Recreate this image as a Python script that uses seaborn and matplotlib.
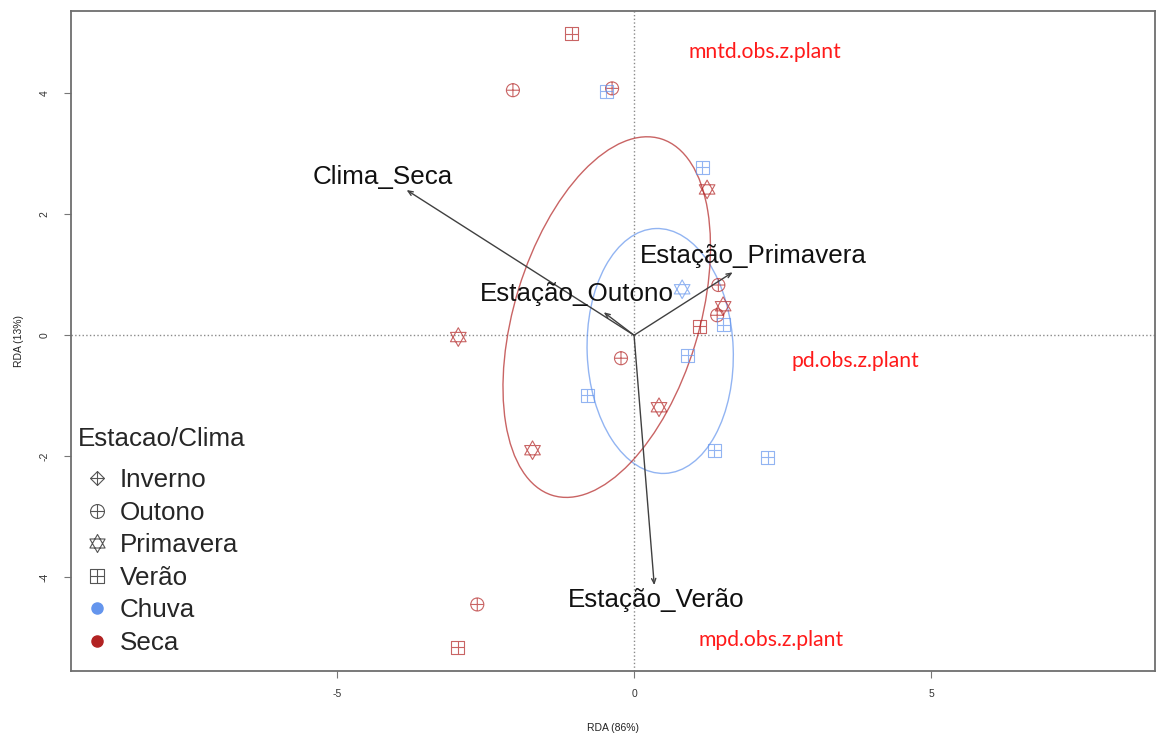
import numpy as np
import pandas as pd
import matplotlib
matplotlib.use("Agg")
import matplotlib.pyplot as plt
from matplotlib.path import Path
from matplotlib.patches import Ellipse
from matplotlib.lines import Line2D
import seaborn as sns

# Scores dos locais (RDA1, RDA2)
rda1 = [-1.05, -2.04, -0.47, -0.37, 1.15, 1.23, 0.81, 1.42, 1.50, 1.40, 1.50,
        1.11, -2.96, -0.22, 0.90, -0.79, 0.42, -1.71, 1.35, 2.25, -2.64, -2.97]
rda2 = [4.98, 4.05, 4.03, 4.08, 2.78, 2.41, 0.76, 0.83, 0.48, 0.33, 0.17,
        0.15, -0.03, -0.38, -0.33, -0.99, -1.19, -1.90, -1.90, -2.02, -4.45, -5.16]
estacao = ["Verão", "Outono", "Verão", "Outono", "Verão", "Primavera", "Primavera",
           "Outono", "Primavera", "Outono", "Verão", "Verão", "Primavera", "Outono",
           "Verão", "Verão", "Primavera", "Primavera", "Verão", "Verão", "Outono", "Verão"]
clima = ["Seca", "Seca", "Chuva", "Seca", "Chuva", "Seca", "Chuva", "Seca", "Seca",
         "Seca", "Chuva", "Seca", "Seca", "Seca", "Chuva", "Chuva", "Seca", "Seca",
         "Chuva", "Chuva", "Seca", "Seca"]

estacoes = ["Inverno", "Outono", "Primavera", "Verão"]
climas = ["Chuva", "Seca"]
cores = {"Chuva": "#6495ED", "Seca": "#B22222"}

# Variaveis explicativas (setas)
env_nomes = ["Clima_Seca", "Estação_Primavera", "Estação_Outono", "Estação_Verão"]
env_x = [-3.83, 1.66, -0.51, 0.34]
env_y = [2.40, 1.04, 0.38, -4.13]
env_lab_x = [-4.24, 2.01, -0.96, 0.37]
env_lab_y = [2.61, 1.31, 0.68, -4.38]

# Variaveis resposta
sp_nomes = ["mntd.obs.z.plant", "pd.obs.z.plant", "mpd.obs.z.plant"]
sp_x = [2.21, 3.73, 2.31]
sp_y = [4.68, -0.43, -5.04]

# Elipses por clima
ell_cx = [0.44, -0.46]
ell_cy = [-0.26, 0.30]
ell_w = [4.05, 6.17]
ell_h = [2.46, 3.11]
ell_ang = [92.2, 72.6]

M, L, C = Path.MOVETO, Path.LINETO, Path.CLOSEPOLY
cruz = Path([[-1, 0], [1, 0], [0, -1], [0, 1]], [M, L, M, L])
marcadores = {
    "Inverno": Path.make_compound_path(
        Path([[0, 1], [1, 0], [0, -1], [-1, 0], [0, 1]], [M, L, L, L, C]), cruz),
    "Outono": Path.make_compound_path(Path.unit_circle(), cruz),
    "Primavera": Path([[0, 1], [-0.84, -0.5], [0.84, -0.5], [0, 1],
                       [0, -1], [-0.84, 0.5], [0.84, 0.5], [0, -1]],
                      [M, L, L, C, M, L, L, C]),
    "Verão": Path.make_compound_path(
        Path([[-1, -1], [1, -1], [1, 1], [-1, 1], [-1, -1]], [M, L, L, L, C]), cruz),
}
tamanhos = {"Inverno": 100, "Outono": 88, "Primavera": 180, "Verão": 88}

df = pd.DataFrame({"RDA1": rda1, "RDA2": rda2, "Estacao": estacao, "Clima": clima})

sns.set_style("white")
plt.rcParams["font.family"] = ["Liberation Sans", "DejaVu Sans"]
plt.rcParams["axes.unicode_minus"] = False

fig = plt.figure(figsize=(11.56, 7.40), dpi=100)
ax = fig.add_axes([0.061, 0.0932, 0.938, 0.892])

ax.axhline(0, ls=":", color="#8a8a8a", lw=1, zorder=1)
ax.axvline(0, ls=":", color="#8a8a8a", lw=1, zorder=1)

for cl, cx, cy, w, h, a in zip(climas, ell_cx, ell_cy, ell_w, ell_h, ell_ang):
    ax.add_patch(Ellipse((cx, cy), w, h, angle=a, fill=False,
                         edgecolor=cores[cl], alpha=0.7, lw=1.0, zorder=2))

for est in ["Outono", "Primavera", "Verão"]:
    sub = df[df["Estacao"] == est]
    sns.scatterplot(data=sub, x="RDA1", y="RDA2", hue="Clima", hue_order=climas,
                    palette=cores, marker=marcadores[est], s=tamanhos[est],
                    linewidth=0.8, legend=False, ax=ax, zorder=3)

# marcadores vazados: cor vai para a borda
for coll in ax.collections:
    fc = np.array(coll.get_facecolors())
    if len(fc):
        fc[:, 3] = 0.7
        coll.set_edgecolors(fc)
        coll.set_facecolors("none")

for nome, x, y, lx, ly in zip(env_nomes, env_x, env_y, env_lab_x, env_lab_y):
    ax.annotate("", xy=(x, y), xytext=(0, 0),
                arrowprops=dict(arrowstyle="->,head_length=0.35,head_width=0.15",
                                color="#404040", lw=1, shrinkA=0, shrinkB=0),
                zorder=4)
    ax.text(lx, ly, nome, fontsize=18.7, color="#111111", ha="center", va="center",
            zorder=5)

for nome, x, y in zip(sp_nomes, sp_x, sp_y):
    ax.text(x, y, nome, fontsize=15.2, color="#ff1a1a", ha="center", va="center",
            family=["Lato", "DejaVu Sans"])

ax.set_xlim(-9.49, 8.77)
ax.set_ylim(-5.55, 5.36)
ax.set_xticks([-5, 0, 5])
ax.set_yticks([-4, -2, 0, 2, 4])
ax.set_xlabel("RDA (86%)", fontsize=7.5, color="#222222", labelpad=17)
ax.set_ylabel("RDA (13%)", fontsize=7.5, color="#222222", labelpad=11)
ax.tick_params(axis="both", length=5, width=0.8, color="#777777", labelsize=7.5,
               labelcolor="#333333", pad=8, bottom=True, left=True)
ax.tick_params(axis="y", pad=10)
for lab in ax.get_yticklabels():
    lab.set_rotation(90)
    lab.set_va("center")
for sp in ax.spines.values():
    sp.set_color("#6e6e6e")
    sp.set_linewidth(1.3)

handles = [Line2D([], [], ls="none", marker=marcadores[e], markersize=10 if e != "Primavera" else 13,
                  markerfacecolor="none", markeredgecolor="#555555", mew=0.8)
           for e in estacoes]
handles += [Line2D([], [], ls="none", marker="o", markersize=8, color=cores[c])
            for c in climas]
leg = ax.legend(handles, estacoes + climas, title="Estacao/Clima", loc="upper left",
                bbox_to_anchor=(0.007, 0.37), frameon=False, fontsize=18.7,
                title_fontsize=18.7, borderpad=0, borderaxespad=0, handlelength=1.45,
                handletextpad=0.15, labelspacing=0.33, alignment="left")
# espaco extra entre o titulo e os itens
leg._legend_box.sep = 12.5

fig.savefig("out.png", dpi=100)
